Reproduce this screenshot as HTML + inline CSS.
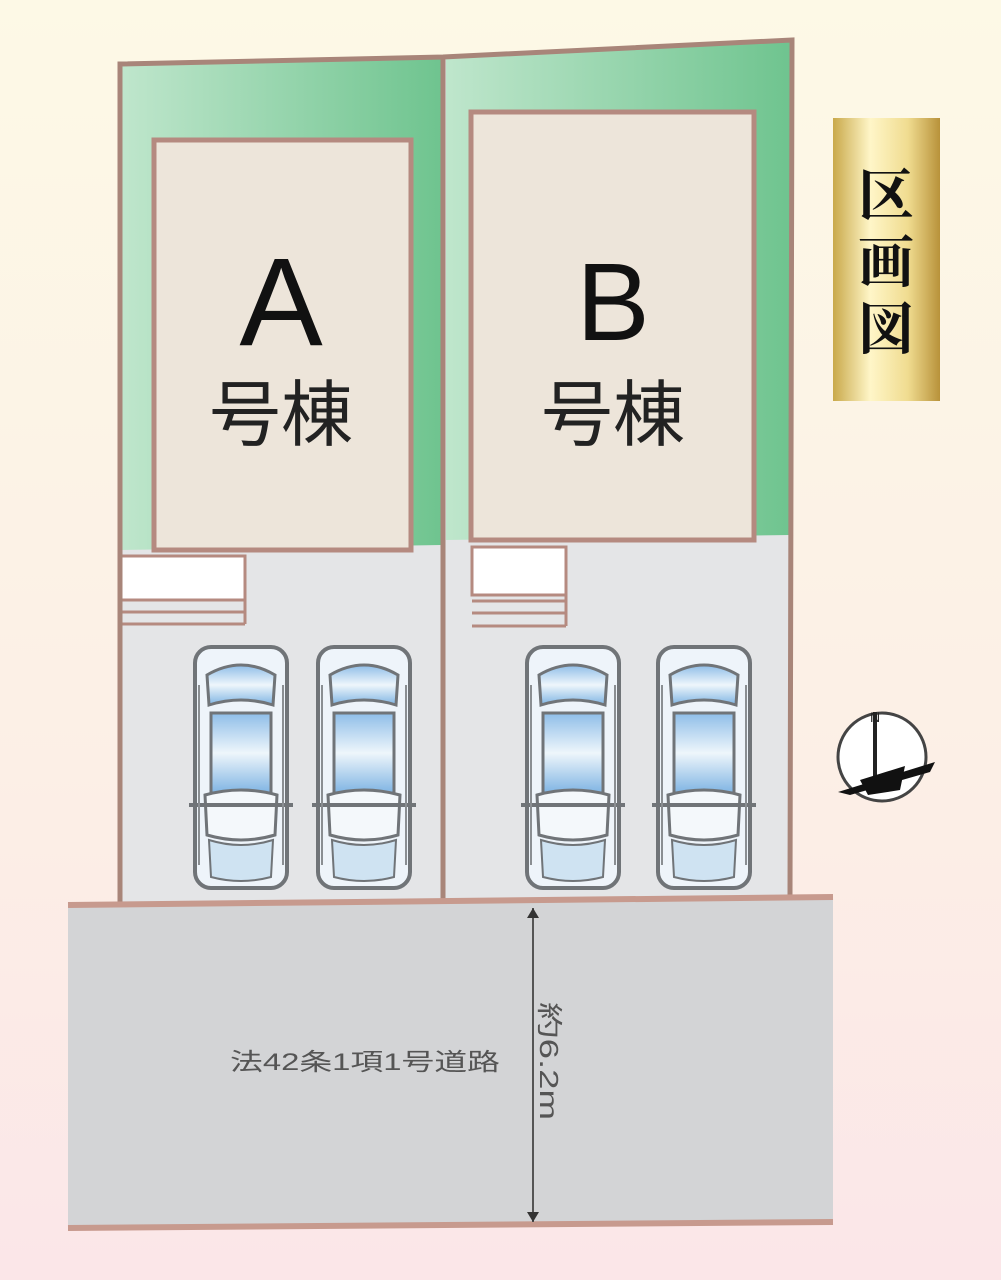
<!DOCTYPE html>
<html><head><meta charset="utf-8"><style>
html,body{margin:0;padding:0;width:1001px;height:1280px;overflow:hidden;background:linear-gradient(#fdf9e6,#fcefe6 60%,#fbe6e8);}
svg{display:block}
</style></head><body>
<svg width="1001" height="1280" viewBox="0 0 1001 1280" xmlns="http://www.w3.org/2000/svg">
<defs>
<linearGradient id="g1" x1="0" y1="0" x2="1" y2="0"><stop offset="0" stop-color="#bfe6cc"/><stop offset="1" stop-color="#6fc48f"/></linearGradient>
<linearGradient id="gold" x1="0" y1="0" x2="1" y2="0"><stop offset="0" stop-color="#c9a94a"/><stop offset=".35" stop-color="#fff6c8"/><stop offset=".7" stop-color="#f0dc90"/><stop offset="1" stop-color="#b8923a"/></linearGradient>
<linearGradient id="cb" x1="0" y1="0" x2="0" y2="1"><stop offset="0" stop-color="#8ebde8"/><stop offset=".5" stop-color="#eef6fb"/><stop offset="1" stop-color="#7fb4e3"/></linearGradient>
<g id="car">
<rect x="2" y="2" width="92" height="241" rx="16" fill="#eef4fa" stroke="#707478" stroke-width="4"/>
<path d="M14 30 Q48 10 82 30 L80 60 Q48 50 16 60Z" fill="url(#cb)" stroke="#707478" stroke-width="3"/>
<rect x="18" y="68" width="60" height="80" fill="url(#cb)" stroke="#707478" stroke-width="3"/>
<path d="M12 150 Q48 140 84 150 L82 190 Q48 200 14 190Z" fill="#f4f8fb" stroke="#707478" stroke-width="3"/>
<path d="M16 195 Q48 205 80 195 L78 232 Q48 240 18 232Z" fill="#cfe3f2" stroke="#707478" stroke-width="2"/>
<line x1="-4" y1="160" x2="100" y2="160" stroke="#707478" stroke-width="4"/>
<line x1="6" y1="40" x2="6" y2="220" stroke="#8a8e92" stroke-width="2"/>
<line x1="90" y1="40" x2="90" y2="220" stroke="#8a8e92" stroke-width="2"/>
</g>
</defs>
<polygon points="120,64 443,57 443,905 120,905" fill="#e4e5e7"/>
<polygon points="443,57 792,40 790,897 443,905" fill="#e4e5e7"/>
<polygon points="122,64 441,58 441,545 122,550" fill="url(#g1)"/>
<polygon points="446,57 790,41 790,535 446,540" fill="url(#g1)"/>
<rect x="154" y="140" width="257" height="410" fill="#ede5da" stroke="#b58a80" stroke-width="5"/>
<rect x="471" y="112" width="283" height="428" fill="#ede5da" stroke="#b58a80" stroke-width="5"/>
<g stroke="#b58a80" stroke-width="3" fill="#fff">
<rect x="121" y="556" width="124" height="44"/>
<line x1="121" y1="612" x2="245" y2="612"/><line x1="121" y1="624" x2="245" y2="624"/><line x1="245" y1="556" x2="245" y2="624"/>
<rect x="472" y="547" width="94" height="48"/>
<line x1="472" y1="601" x2="566" y2="601"/><line x1="472" y1="613" x2="566" y2="613"/><line x1="472" y1="626" x2="566" y2="626"/><line x1="566" y1="547" x2="566" y2="626"/>
</g>
<g fill="none" stroke="#a88579" stroke-width="5">
<polyline points="120,905 120,64 443,57 792,40 790,897"/>
<line x1="443" y1="57" x2="443" y2="905"/>
</g>
<use href="#car" x="193" y="645"/><use href="#car" x="316" y="645"/>
<use href="#car" x="525" y="645"/><use href="#car" x="656" y="645"/>
<polygon points="68,905 833,897 833,1222 68,1228" fill="#d3d4d6"/>
<line x1="68" y1="905" x2="833" y2="897" stroke="#c79a8e" stroke-width="6"/>
<line x1="68" y1="1228" x2="833" y2="1222" stroke="#c79a8e" stroke-width="6"/>
<line x1="533" y1="908" x2="533" y2="1222" stroke="#555" stroke-width="2"/>
<polygon points="527,918 539,918 533,908" fill="#333"/>
<polygon points="527,1212 539,1212 533,1222" fill="#333"/>
<text x="230" y="1070" textLength="270" lengthAdjust="spacingAndGlyphs" font-family="Liberation Sans,'Noto Sans CJK JP',sans-serif" font-size="24" fill="#555">法42条1項1号道路</text>
<text transform="translate(540,1002) rotate(90)" textLength="118" lengthAdjust="spacingAndGlyphs" font-family="Liberation Sans,'Noto Sans CJK JP',sans-serif" font-size="26" fill="#555">約6.2m</text>
<text x="281" y="345" font-family="Liberation Sans,sans-serif" font-size="125" fill="#111" text-anchor="middle">A</text>
<text x="281" y="440" font-family="'Noto Sans CJK JP',sans-serif" font-size="72" fill="#222" text-anchor="middle">号棟</text>
<text x="613" y="340" font-family="Liberation Sans,sans-serif" font-size="110" fill="#111" text-anchor="middle">B</text>
<text x="613" y="440" font-family="'Noto Sans CJK JP',sans-serif" font-size="72" fill="#222" text-anchor="middle">号棟</text>
<rect x="833" y="118" width="107" height="283" fill="url(#gold)"/>
<text x="886" y="215" font-family="'Noto Serif CJK SC','Noto Sans CJK JP',serif" font-weight="bold" font-size="56" fill="#111" text-anchor="middle">区</text>
<text x="886" y="282" font-family="'Noto Serif CJK SC','Noto Sans CJK JP',serif" font-weight="bold" font-size="56" fill="#111" text-anchor="middle">画</text>
<text x="886" y="349" font-family="'Noto Serif CJK SC','Noto Sans CJK JP',serif" font-weight="bold" font-size="56" fill="#111" text-anchor="middle">図</text>
<circle cx="882" cy="757" r="44" fill="#fff" stroke="#444" stroke-width="3"/>
<line x1="875" y1="712" x2="875" y2="790" stroke="#222" stroke-width="4"/>
<polygon points="838,792 935,762 930,772 850,795" fill="#111"/>
<polygon points="860,780 905,766 900,790 868,795" fill="#111"/>
<text x="875" y="722" font-family="Liberation Sans,sans-serif" font-size="14" fill="#222" text-anchor="middle">N</text>
</svg>
</body></html>
